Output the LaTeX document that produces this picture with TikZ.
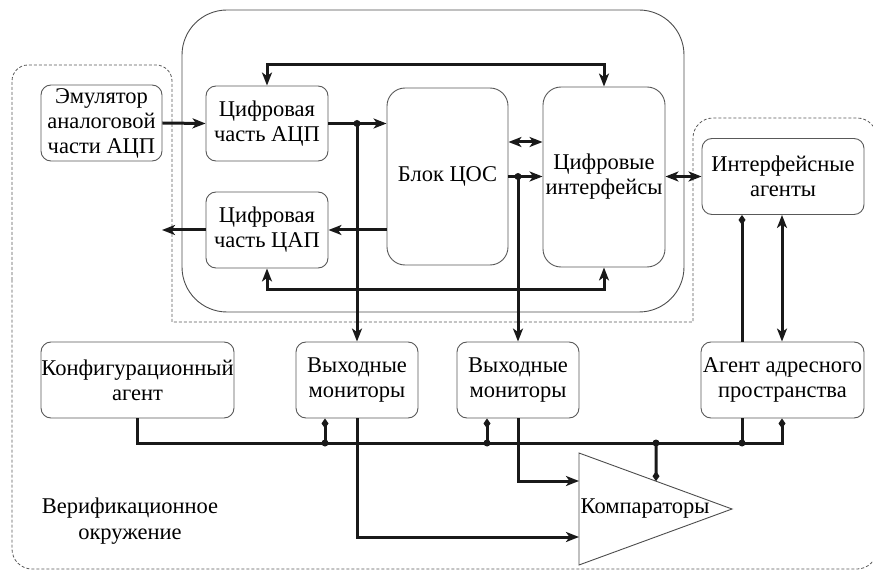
\documentclass[tikz,border=0pt]{standalone}
\usepackage{fontspec}
\setmainfont{Liberation Serif}
\newfontfamily\serifru{LiberationSerif}[Extension=.ttf, UprightFont=*-Regular]
\usetikzlibrary{arrows.meta}
\begin{document}
\begin{tikzpicture}[x=1pt,y=-1pt,
  box/.style={draw=black!65, line width=0.9pt, rounded corners=10pt, fill=white,
    align=center, inner sep=0pt, font=\serifru\fontsize{22.5}{25}\selectfont},
  bigbox/.style={box, rounded corners=18pt},
  frame/.style={draw=black!70, line width=0.9pt},
  envline/.style={draw=black!65, line width=0.8pt, dash pattern=on 3pt off 2pt},
  conn/.style={line width=3pt, draw=black!90},
  >={Stealth[length=13pt,width=10pt,inset=3.5pt]},
  dia/.tip={Diamond[length=10pt,width=7pt]},
  lbl/.style={align=center, inner sep=0pt, font=\serifru\fontsize{22.5}{26}\selectfont}]
\useasboundingbox (0,0) rectangle (873,572);
\clip (0,0) rectangle (873,572);
% verification environment outline
\draw[envline] (12,300) [rounded corners=16pt] -- (12,65) -- (172,65) -- (172,200)
  [sharp corners] -- (172,322) -- (693,322) -- (693,200)
  [rounded corners=20pt] -- (693,118) -- (877,118) -- (877,569) -- (12,569) -- cycle;
% device frame
\node[frame, rounded corners=45pt, minimum width=502pt, minimum height=302pt, inner sep=0pt] (dev) at (433,161) {};
% boxes
\node[box, minimum width=121pt, minimum height=76pt] (emu) at (101.5,123) {Эмулятор\\аналоговой\\части АЦП};
\node[box, minimum width=122pt, minimum height=75pt] (adc) at (267,123.5) {Цифровая\\часть АЦП};
\node[box, minimum width=122pt, minimum height=76pt] (dac) at (267,230) {Цифровая\\часть ЦАП};
\node[bigbox, minimum width=121pt, minimum height=177pt] (dsp) at (447.5,176.5) {Блок ЦОС};
\node[bigbox, minimum width=122pt, minimum height=180pt] (dif) at (604,177) {Цифровые\\интерфейсы};
\node[box, minimum width=162pt, minimum height=76pt] (ia) at (783,176.5) {Интерфейсные\\агенты};
\node[box, minimum width=193pt, minimum height=76pt] (cfg) at (137.5,380) {Конфигурационный\\агент};
\node[box, minimum width=122pt, minimum height=76pt] (mon1) at (357,380) {Выходные\\мониторы};
\node[box, minimum width=122pt, minimum height=76pt] (mon2) at (518,380) {Выходные\\мониторы};
\node[box, minimum width=163pt, minimum height=76pt] (aap) at (782.5,380) {Агент адресного\\пространства};
% comparator
\draw[frame] (579,453) coordinate (ct) -- (732,509) coordinate (ctip) -- (579,565) coordinate (cb) -- cycle;
\node[lbl] (comp) at (645,509) {Компараторы};
\node[lbl] (env) at (130,521) {Верификационное\\окружение};
% junction coordinates
\coordinate (j1) at (mon1.north |- adc.east);
\coordinate (j2) at (mon2.north |- dsp.east);
\coordinate (dacout) at (162,230);
\coordinate (b1) at (325,443);
\coordinate (b2) at (487,443);
\coordinate (b3) at (656,443);
\coordinate (b4) at (742,443);
\coordinate (bend) at (782,443);
\coordinate (cmpd) at (intersection of 656,443--656,600 and ct--ctip);
% connectors
\draw[conn,->] (emu.east) -- (adc.west);
\draw[conn,->] (adc.east) -- (dsp.west |- adc.east);
\draw[conn,->] (j1) -- (mon1.north);
\draw[conn,->] (dsp.west |- dac.east) -- (dac.east);
\draw[conn,->] (dac.west) -- (dacout);
\draw[conn,<->] (adc.north) -- ++(0,-21) -| (dif.north);
\draw[conn,<->] (dac.south) -- ++(0,21) -| (dif.south);
\draw[conn,<->] (dsp.east |- 0,142) -- (dif.west |- 0,142);
\draw[conn,->] (dsp.east) -- (dif.west |- dsp.east);
\draw[conn,->] (j2) -- (mon2.north);
\draw[conn,<->] (dif.east |- ia.west) -- (ia.west);
\draw[conn,dia-] (ia.south -| b4) -- (aap.north -| b4);
\draw[conn,<->] (ia.south -| bend) -- (aap.north -| bend);
\draw[conn] (aap.south -| b4) -- (b4);
\draw[conn,-dia] (cfg.south) -- (cfg.south |- b1) -- (bend) -- (aap.south -| bend);
\draw[conn,-dia] (b1) -- (mon1.south -| b1);
\draw[conn,-dia] (b2) -- (mon2.south -| b2);
\draw[conn,-dia] (b3) -- (cmpd);
\draw[conn,->] (mon1.south) -- (mon1.south |- 0,537) -- (ct |- 0,537);
\draw[conn,->] (mon2.south) -- (mon2.south |- 0,481) -- (ct |- 0,481);
% dots
\foreach \p in {j1,j2,b1,b2,b3,b4} \fill[black!90] (\p) circle (3.5pt);
\end{tikzpicture}
\end{document}
